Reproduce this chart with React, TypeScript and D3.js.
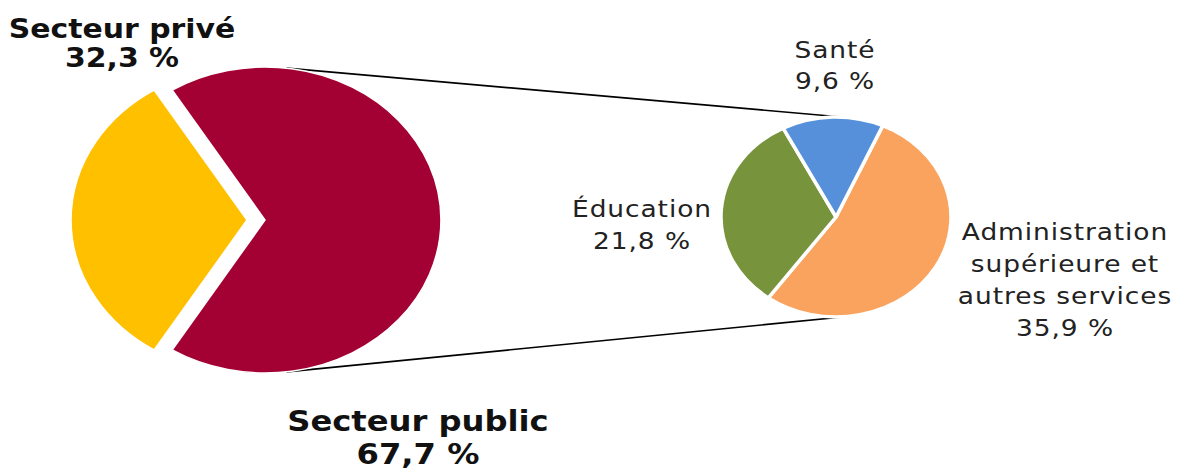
import React from 'react';
import * as d3 from 'd3';

// the whole picture is stretched horizontally, so everything is drawn in a scaled group
const SX = 1.15;
const W = 1180;
const H = 471;

const mainCategories = ['Secteur privé', 'Secteur public'];
const mainValues = [32.3, 67.7];
const mainLabels = ['32,3 %', '67,7 %'];
const mainColors = ['#FFC000', '#A30034'];

const subCategories = ['Administration supérieure et autres services', 'Éducation', 'Santé'];
const subLines = [['Administration', 'supérieure et', 'autres services'], ['Éducation'], ['Santé']];
const subValues = [35.9, 21.8, 9.6];
const subLabels = ['35,9 %', '21,8 %', '9,6 %'];
const subColors = ['#F9A35E', '#77933C', '#5690DA'];

interface Slice {
  name: string;
  value: number;
  color: string;
  lines: string[];
}

const rad = (d: number) => (d * Math.PI) / 180;

const App: React.FC = () => {
  // main pie
  const mainCx = 256 / SX;
  const mainCy = 220;
  const mainR = 153;
  const mainExplode = 9 / SX;

  // secondary pie
  const subCx = 836 / SX;
  const subCy = 217;
  const subR = 100;

  const mainData: Slice[] = mainCategories.map((c, i) => ({
    name: c,
    value: mainValues[i],
    color: mainColors[i],
    lines: [c, mainLabels[i]],
  }));
  const subData: Slice[] = subCategories.map((c, i) => ({
    name: c,
    value: subValues[i],
    color: subColors[i],
    lines: [...subLines[i], subLabels[i]],
  }));

  const privShare = mainValues[0] / d3.sum(mainValues);
  const mainStart = rad(270) - privShare * Math.PI;
  const mainPie = d3
    .pie<Slice>()
    .sort(null)
    .value((d) => d.value)
    .startAngle(mainStart)
    .endAngle(mainStart + 2 * Math.PI);
  const subStart = rad(24);
  const subPie = d3
    .pie<Slice>()
    .sort(null)
    .value((d) => d.value)
    .startAngle(subStart)
    .endAngle(subStart + 2 * Math.PI);

  const mainArc = d3.arc<d3.PieArcDatum<Slice>>().innerRadius(0).outerRadius(mainR);
  const subArc = d3.arc<d3.PieArcDatum<Slice>>().innerRadius(0).outerRadius(subR);

  const mainArcs = mainPie(mainData);
  const subArcs = subPie(subData);

  const offset = (a: d3.PieArcDatum<Slice>, e: number) => {
    const m = (a.startAngle + a.endAngle) / 2;
    return [e * Math.sin(m), -e * Math.cos(m)];
  };

  // connector lines between the public slice and the secondary pie
  const pub = mainArcs[1];
  const [pox, poy] = offset(pub, mainExplode);
  const la = rad(7);
  const connectors = [la, Math.PI - la].map((a) => ({
    x1: mainCx + pox + mainR * Math.sin(a),
    y1: mainCy + poy - mainR * Math.cos(a),
    x2: subCx + subR * Math.sin(a),
    y2: subCy - subR * Math.cos(a),
  }));

  // label anchors (screen x, first baseline, line step, font size)
  const mainLabelPos = [
    { x: 122, y: 38, dy: 29, fs: 26 },
    { x: 418, y: 431, dy: 33, fs: 28 },
  ];
  const subLabelPos = [
    { x: 1065, y: 240, dy: 32 },
    { x: 642, y: 217, dy: 32 },
    { x: 835, y: 58, dy: 31 },
  ];

  return (
    <svg
      width={W}
      height={H}
      style={{ position: 'absolute', left: 0, top: 0, background: '#fff' }}
    >
      <g transform={`scale(${SX},1)`}>
        {connectors.map((c, i) => (
          <line key={i} x1={c.x1} y1={c.y1} x2={c.x2} y2={c.y2} stroke="#000" strokeWidth={1.7} />
        ))}
        {mainArcs.map((a, i) => {
          const [ox, oy] = offset(a, mainExplode);
          return (
            <path
              key={i}
              d={mainArc(a) as string}
              transform={`translate(${mainCx + ox},${mainCy + oy})`}
              fill={a.data.color}
              stroke="#fff"
              strokeWidth={1.5}
              vectorEffect="non-scaling-stroke"
            />
          );
        })}
        {subArcs.map((a, i) => (
          <path
            key={i}
            d={subArc(a) as string}
            transform={`translate(${subCx},${subCy})`}
            fill={a.data.color}
            stroke="#fff"
            strokeWidth={3.5}
            strokeLinejoin="round"
            vectorEffect="non-scaling-stroke"
          />
        ))}
        {mainData.map((d, i) => (
          <text
            key={i}
            x={mainLabelPos[i].x / SX}
            y={mainLabelPos[i].y}
            textAnchor="middle"
            fontFamily="'DejaVu Sans', Verdana, sans-serif"
            fontWeight="bold"
            fontSize={mainLabelPos[i].fs}
            fill="#111"
          >
            {d.lines.map((l, j) => (
              <tspan key={j} x={mainLabelPos[i].x / SX} dy={j === 0 ? 0 : mainLabelPos[i].dy}>
                {l}
              </tspan>
            ))}
          </text>
        ))}
        {subData.map((d, i) => (
          <text
            key={i}
            x={subLabelPos[i].x / SX}
            y={subLabelPos[i].y}
            textAnchor="middle"
            fontFamily="'DejaVu Sans', Verdana, sans-serif"
            fontSize={23}
            letterSpacing={0.8}
            fill="#222"
          >
            {d.lines.map((l, j) => (
              <tspan key={j} x={subLabelPos[i].x / SX} dy={j === 0 ? 0 : subLabelPos[i].dy}>
                {l}
              </tspan>
            ))}
          </text>
        ))}
      </g>
    </svg>
  );
};

export default App;
